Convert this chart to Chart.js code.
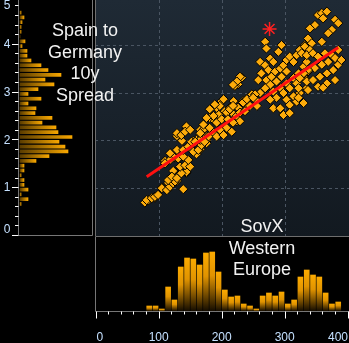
<!DOCTYPE html>
<html>
<head>
<meta charset="utf-8">
<script src="https://cdn.jsdelivr.net/npm/chart.js@4/dist/chart.umd.min.js"></script>
<style>
  html, body { margin: 0; padding: 0; background: #000; width: 349px; height: 343px; overflow: hidden; }
  canvas { position: absolute; display: block; }
  #histY { left: 0; top: 0; }
  #scatter { left: 95px; top: 0; background: linear-gradient(to bottom, #1f2a35, #121920); }
  #histX { left: 95px; top: 237px; }
  .title { position: absolute; width: 110px; color: #f2f2f2; font: 18px/21.5px "Liberation Sans", Arial, sans-serif; text-align: center; white-space: pre; }
  #yTitle { left: 30px; top: 20px; }
  #xTitle { left: 207px; top: 216px; }
</style>
</head>
<body>
<canvas id="histY" width="95" height="240"></canvas>
<canvas id="scatter" width="254" height="237"></canvas>
<canvas id="histX" width="254" height="106"></canvas>
<div class="title" id="yTitle">Spain to
Germany
10y
Spread</div>
<div class="title" id="xTitle">SovX
Western
Europe</div>
<script>
// SovX Western Europe (x) against the Spain-Germany 10y spread (y)
const sovx = [
  78, 84, 94, 105, 115, 121, 129, 139, 123, 134, 144, 110, 126, 129, 144, 137, 150, 160, 166, 155,
  166, 176, 174, 181, 189, 195, 192, 200, 205, 213, 219, 224, 219, 226, 234, 242, 250, 240, 226, 221, 232,
  81, 89, 94, 99, 105, 113, 118, 123, 126, 115, 121, 129, 144, 136, 134, 142, 150, 147, 131, 139,
  123, 118, 110, 118, 129, 139, 147, 155, 163, 152, 160, 168, 176, 144, 129, 136, 142, 150, 166, 173, 176, 168,
  229, 224, 218, 203, 197, 189, 181, 187, 176, 171, 181, 192, 200, 208, 213, 218, 224, 229, 234, 240,
  248, 253, 245, 237, 229, 218, 208, 197, 187, 179, 166, 158, 173, 192, 203, 216, 256, 210, 166,
  269, 271, 295, 290, 261, 269, 277, 282, 274, 263, 258, 271, 279, 285, 293, 298, 303, 308, 319, 324,
  332, 337, 314, 303, 295, 287, 277, 269, 261, 253, 250, 282, 293, 303, 314, 322, 330, 335, 330, 319,
  308, 298, 287, 277, 282, 293, 303, 314, 324, 335, 319, 308, 298, 308, 330, 335, 337,
  353, 359, 367, 361, 380, 385, 348, 340, 375, 369, 337, 359, 343, 332, 340, 327, 335, 345, 353, 364,
  375, 380, 369, 359, 348, 337, 330, 324, 335, 345, 356, 367, 377, 385, 390, 367, 380, 353, 337, 322, 385,
  322, 361
];
const spread = [
  0.70, 0.75, 0.80, 1.01, 1.11, 1.22, 1.15, 0.98, 1.36, 1.43, 1.32, 1.57, 1.64, 2.09, 2.23, 1.99, 1.85, 1.71, 1.81, 1.99,
  2.13, 1.99, 2.26, 2.47, 2.40, 2.54, 2.68, 2.82, 2.61, 2.68, 2.54, 2.40, 2.82, 2.68, 2.82, 2.89, 2.93, 2.75, 3.17, 3.14, 3.31,
  0.75, 0.79, 0.82, 0.86, 1.00, 0.96, 1.03, 1.10, 1.14, 1.17, 1.24, 1.21, 1.34, 1.31, 1.45, 1.48, 1.45, 1.59, 1.62, 1.66,
  1.66, 1.59, 1.52, 1.73, 1.80, 1.80, 1.87, 1.76, 1.80, 1.97, 2.01, 2.04, 2.08, 2.29, 2.15, 2.11, 2.18, 2.22, 2.22, 2.25, 1.94, 1.90,
  3.33, 3.23, 3.16, 2.86, 2.72, 2.75, 2.65, 2.51, 2.47, 2.33, 2.26, 2.37, 2.44, 2.58, 2.65, 2.72, 2.51, 2.58, 2.79, 2.86,
  2.96, 2.86, 2.72, 2.61, 2.40, 2.37, 2.26, 2.22, 2.15, 2.08, 2.01, 1.97, 1.97, 2.08, 2.11, 2.18, 2.72, 2.44, 2.15,
  4.06, 3.92, 3.99, 3.85, 3.64, 3.57, 3.71, 3.64, 3.47, 3.40, 3.26, 3.26, 3.33, 3.44, 3.50, 3.57, 3.68, 3.75, 3.78, 3.89,
  3.99, 3.92, 3.64, 3.44, 3.33, 3.23, 3.16, 3.09, 2.99, 2.96, 2.89, 3.02, 3.09, 3.19, 3.30, 3.40, 3.54, 3.64, 3.33, 3.19,
  3.09, 2.99, 2.89, 2.85, 2.67, 2.67, 2.85, 2.92, 2.99, 3.09, 2.81, 2.74, 2.53, 2.57, 2.78, 3.26, 3.44,
  4.62, 4.66, 4.69, 4.55, 4.52, 4.45, 4.41, 4.34, 4.31, 4.24, 4.13, 4.06, 4.03, 3.96, 3.89, 3.82, 3.78, 3.82, 3.75, 3.82,
  3.78, 3.72, 3.64, 3.58, 3.51, 3.47, 3.40, 3.30, 3.23, 3.26, 3.33, 3.40, 3.47, 3.58, 3.68, 3.19, 3.26, 3.12, 3.05, 3.09, 3.89,
  2.89, 3.10
];

// regression line end points and the latest observation
const fitSovx = [81, 385];
const fitSpread = [1.24, 3.94];
const lastSovx = [276];
const lastSpread = [4.33];

// distribution of the spread (left panel)
const spreadBins = [4.67, 4.57, 4.47, 4.37, 4.27, 4.17, 4.07, 3.97, 3.87, 3.77, 3.67, 3.57, 3.47, 3.37, 3.27, 3.17, 3.07, 2.97, 2.87, 2.77,
  2.67, 2.57, 2.47, 2.37, 2.27, 2.17, 2.07, 1.97, 1.87, 1.77, 1.67, 1.57, 1.47, 1.37, 1.27, 1.17, 1.07, 0.97, 0.87, 0.77, 0.67];
const spreadCounts = [1, 4, 2, 1, 1, 0, 5, 2, 7, 7, 11, 21, 28, 41, 25, 34, 18, 8, 21, 8,
  16, 15, 32, 22, 36, 38, 52, 39, 45, 48, 29, 16, 4, 4, 1, 4, 4, 8, 1, 8, 1];

// distribution of SovX (bottom panel)
const sovxBins = [85, 95, 105, 115, 125, 135, 145, 155, 165, 175, 185, 195, 205, 215, 225, 235, 245, 255, 265, 275,
  285, 295, 305, 315, 325, 335, 345, 355, 365, 375, 385];
const sovxCounts = [5, 5, 2, 24, 11, 44, 53, 52, 46, 58, 59, 39, 21, 14, 15, 7, 5, 2, 15, 18,
  15, 19, 7, 11, 34, 41, 36, 34, 18, 7, 9];

const xTickValues = [0, 100, 200, 300, 400];
const yTickValues = [0, 1, 2, 3, 4, 5];
const xGridValues = [100, 200, 300];
const yGridValues = [1, 2, 3, 4];

const X_MIN = -1.1, X_MAX = 402.1;
const Y_MIN = -0.021, Y_MAX = 4.934;
const ORANGE = '#fcab0b';
const LABEL_FONT = '12px "Liberation Sans", Arial, sans-serif';
const LABEL_COLOR = '#c4e0ff';

// Each histogram bar fades from dark at its base to orange at its tip
function hBarFill(context) {
    const chart = context.chart;
    if (!chart.chartArea || !context.parsed) return ORANGE;
    const xs = chart.scales.x;
    const x0 = xs.getPixelForValue(0);
    const x1 = xs.getPixelForValue(context.parsed.x);
    if (x1 - x0 < 1) return '#6a4700';
    const g = chart.ctx.createLinearGradient(x0, 0, x1, 0);
    g.addColorStop(0, '#5a3c00');
    g.addColorStop(1, '#f8a700');
    return g;
}

function vBarFill(context) {
    const chart = context.chart;
    if (!chart.chartArea || !context.parsed) return ORANGE;
    const ys = chart.scales.y;
    const y0 = ys.getPixelForValue(0);
    const y1 = ys.getPixelForValue(context.parsed.y);
    if (y0 - y1 < 1) return '#6a4700';
    const g = chart.ctx.createLinearGradient(0, y1, 0, y0);
    g.addColorStop(0, '#fbaa00');
    g.addColorStop(0.4, '#e09300');
    g.addColorStop(1, '#140c00');
    return g;
}

// Left axis: panel frame, ticks and labels
const leftAxis = {
    id: 'leftAxis',
    afterDraw(chart) {
        const { ctx, chartArea: a, scales: { y } } = chart;
        const y0 = Math.round(y.getPixelForValue(0)) - 0.5;
        ctx.save();
        ctx.lineWidth = 1;
        ctx.strokeStyle = '#767676';
        ctx.beginPath();
        ctx.moveTo(a.left + 0.5, 0);
        ctx.lineTo(a.left + 0.5, y0);
        ctx.lineTo(a.right - 0.5, y0);
        ctx.lineTo(a.right - 0.5, 0);
        ctx.stroke();

        ctx.strokeStyle = '#ffffff';
        ctx.beginPath();
        for (let i = 0; i <= 25; i++) {
            const py = Math.round(y.getPixelForValue(i / 5)) - 0.5;
            if (py < 0) continue;
            const len = i % 5 === 0 ? 6 : 3;
            ctx.moveTo(a.left - len, py);
            ctx.lineTo(a.left + 0.5, py);
        }
        ctx.stroke();

        ctx.fillStyle = LABEL_COLOR;
        ctx.font = LABEL_FONT;
        ctx.textAlign = 'center';
        ctx.textBaseline = 'middle';
        yTickValues.forEach(v => {
            const py = Math.min(Math.max(y.getPixelForValue(v), 6), 230);
            ctx.fillText(String(v), 7, py);
        });
        ctx.restore();
    }
};

// Scatter panel: dashed grid under the points, frame on top
const scatterFrame = {
    id: 'scatterFrame',
    beforeDatasetsDraw(chart) {
        const { ctx, chartArea: a, scales: { x, y } } = chart;
        ctx.save();
        ctx.strokeStyle = '#4a5562';
        ctx.lineWidth = 1;
        ctx.setLineDash([3, 3]);
        ctx.beginPath();
        xGridValues.forEach(v => {
            const px = Math.round(x.getPixelForValue(v)) + 0.5;
            ctx.moveTo(px, a.top);
            ctx.lineTo(px, a.bottom);
        });
        yGridValues.forEach(v => {
            const py = Math.round(y.getPixelForValue(v)) + 0.5;
            ctx.moveTo(a.left, py);
            ctx.lineTo(a.right, py);
        });
        ctx.stroke();
        ctx.restore();
    },
    afterDraw(chart) {
        const { ctx, chartArea: a } = chart;
        ctx.save();
        ctx.strokeStyle = '#6e6e6e';
        ctx.lineWidth = 1;
        ctx.beginPath();
        ctx.moveTo(0.5, 0);
        ctx.lineTo(0.5, a.bottom - 0.5);
        ctx.lineTo(a.right, a.bottom - 0.5);
        ctx.stroke();
        ctx.restore();
    }
};

// Bottom axis: frame, ticks every 20 and labels kept inside the panel
const bottomAxis = {
    id: 'bottomAxis',
    afterDraw(chart) {
        const { ctx, chartArea: a, scales: { x } } = chart;
        const base = a.bottom + 0.5;
        ctx.save();
        ctx.lineWidth = 1;
        ctx.strokeStyle = '#767676';
        ctx.beginPath();
        ctx.moveTo(0.5, 0);
        ctx.lineTo(0.5, base);
        ctx.lineTo(chart.width, base);
        ctx.stroke();

        ctx.strokeStyle = '#ffffff';
        ctx.beginPath();
        for (let v = 0; v <= 400; v += 20) {
            const px = Math.round(x.getPixelForValue(v)) + 0.5;
            const len = v % 100 === 0 ? 7 : 3;
            ctx.moveTo(px, base);
            ctx.lineTo(px, base + len);
        }
        ctx.stroke();

        ctx.fillStyle = LABEL_COLOR;
        ctx.font = LABEL_FONT;
        ctx.textAlign = 'center';
        ctx.textBaseline = 'middle';
        xTickValues.forEach(v => {
            const text = String(v);
            const w = ctx.measureText(text).width;
            const px = Math.min(Math.max(x.getPixelForValue(v), w / 2 + 1.5), chart.width - w / 2 - 1);
            ctx.fillText(text, px, base + 26);
        });
        ctx.restore();
    }
};

const common = {
    responsive: false,
    animation: false,
    devicePixelRatio: 1,
    events: [],
    plugins: { legend: { display: false }, tooltip: { enabled: false } }
};

// Left histogram
new Chart(document.getElementById('histY'), {
    type: 'bar',
    data: {
        datasets: [{
            data: spreadBins.map((b, i) => ({ x: spreadCounts[i], y: b })),
            backgroundColor: hBarFill,
            barThickness: 3,
            borderWidth: 0
        }]
    },
    options: {
        ...common,
        indexAxis: 'y',
        layout: { autoPadding: false, padding: { left: 18, right: 2, top: 0, bottom: 3 } },
        scales: {
            x: { type: 'linear', min: -2, max: 73, display: false },
            y: { type: 'linear', min: Y_MIN, max: Y_MAX, offset: false, display: false }
        }
    },
    plugins: [leftAxis]
});

// Scatter
new Chart(document.getElementById('scatter'), {
    type: 'scatter',
    data: {
        datasets: [
            {
                data: lastSovx.map((x, i) => ({ x, y: lastSpread[i] })),
                pointStyle: 'star',
                pointRadius: 7,
                borderColor: '#ff2020',
                borderWidth: 1.5,
                backgroundColor: 'transparent',
                order: 0
            },
            {
                type: 'line',
                data: fitSovx.map((x, i) => ({ x, y: fitSpread[i] })),
                borderColor: '#ff1010',
                borderWidth: 3,
                pointRadius: 0,
                fill: false,
                order: 1
            },
            {
                data: sovx.map((x, i) => ({ x, y: spread[i] })),
                pointStyle: 'rectRot',
                pointRadius: 4.6,
                backgroundColor: ORANGE,
                borderColor: '#000000',
                borderWidth: 1,
                order: 2
            }
        ]
    },
    options: {
        ...common,
        layout: { autoPadding: false, padding: 0 },
        scales: {
            x: { type: 'linear', min: X_MIN, max: X_MAX, display: false },
            y: { type: 'linear', min: Y_MIN, max: Y_MAX, display: false }
        }
    },
    plugins: [scatterFrame]
});

// Bottom histogram
new Chart(document.getElementById('histX'), {
    type: 'bar',
    data: {
        datasets: [{
            data: sovxBins.map((b, i) => ({ x: b, y: sovxCounts[i] })),
            backgroundColor: vBarFill,
            barThickness: 5,
            borderWidth: 0
        }]
    },
    options: {
        ...common,
        layout: { autoPadding: false, padding: { left: 0, right: 0, top: 0, bottom: 32 } },
        scales: {
            x: { type: 'linear', min: X_MIN, max: X_MAX, offset: false, display: false },
            y: { type: 'linear', min: 0, max: 74, display: false }
        }
    },
    plugins: [bottomAxis]
});
</script>
</body>
</html>
